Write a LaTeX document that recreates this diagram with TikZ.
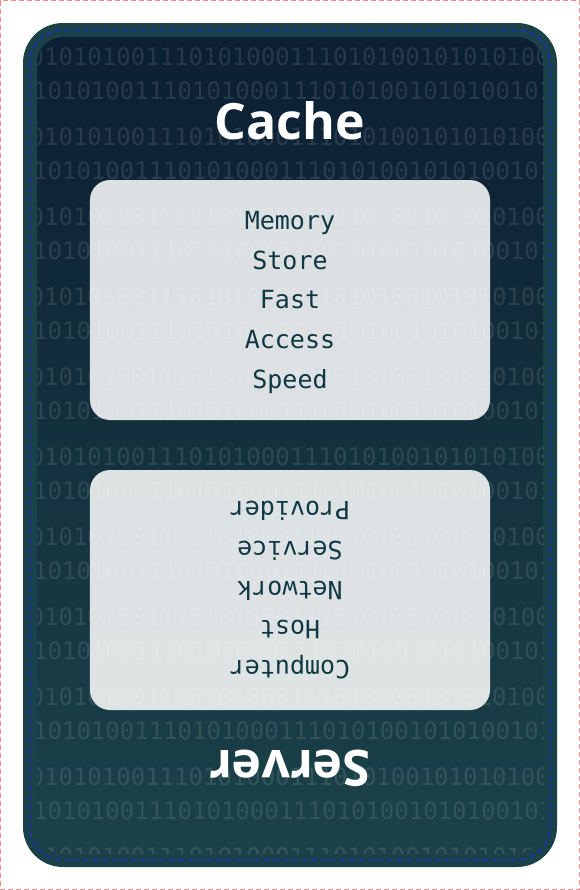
\documentclass[tikz,border=0pt]{standalone}
\usepackage{fontspec}
\newfontfamily\titlefont{Open Sans}
\newfontfamily\codefont{DejaVu Sans Mono}
\definecolor{bgtop}{HTML}{0C1F33}
\definecolor{bgbot}{HTML}{1B4249}
\definecolor{framecol}{HTML}{1B4249}
\definecolor{inkteal}{HTML}{103842}
\definecolor{dashblue}{HTML}{1F2FD0}
\definecolor{dashpink}{HTML}{F08A8A}
\begin{document}
\begin{tikzpicture}[x=1bp,y=-1bp,
  bits/.style={anchor=base west, inner sep=0pt, text=white, text opacity=0.11,
    font=\codefont\fontsize{24bp}{24bp}\selectfont},
  titletext/.style={anchor=base, inner sep=0pt, text=white,
    font=\titlefont\bfseries\fontsize{50bp}{50bp}\selectfont},
  word/.style={anchor=base, inner sep=0pt, text=inkteal,
    font=\codefont\fontsize{25bp}{25bp}\selectfont},
  card/.style={rectangle, fill=white, fill opacity=0.86, rounded corners=20bp,
    inner sep=0pt, minimum width=400bp, minimum height=240bp}]
\useasboundingbox (0,0) rectangle (580,890);
% outer frame
\fill[framecol, rounded corners=40bp] (23,23) rectangle (557,867);
\shade[top color=bgtop, bottom color=bgbot, rounded corners=26bp] (37,37) rectangle (543,853);
% binary background
\begin{scope}
  \clip[rounded corners=26bp] (37,37) rectangle (543,853);
  \foreach \k in {0,...,10} {
    \node[bits] (rowa\k) at (29.5, 65+80*\k) {010101001110101000111010100101010100};
  }
  \foreach \k in {0,...,9} {
    \node[bits] (rowb\k) at (33, 99+80*\k) {101010011101010001110101001010100101};
  }
\end{scope}
% dashed lines
\draw[dashblue, line width=1.2bp, dash pattern=on 6bp off 3.5bp, rounded corners=33bp] (30,30) rectangle (550,860);
\draw[dashpink, line width=1bp, dash pattern=on 5bp off 3bp] (0.5,0.5) rectangle (579.5,889.5);
% top half
\node[titletext] (cache) at (290,139.5) {Cache};
\node[card] (cachecard) at (290,300) {};
\node[word] (w1) at (290,229.7) {Memory};
\node[word] (w2) at (290,269.3) {Store};
\node[word] (w3) at (290,308.9) {Fast};
\node[word] (w4) at (290,348.5) {Access};
\node[word] (w5) at (290,388.1) {Speed};
% bottom half, turned round
\begin{scope}[rotate around={180:(290,445)}, transform shape]
  \node[titletext] (server) at (290,139.5) {Server};
  \node[card] (servercard) at (290,300) {};
  \node[word] (v1) at (290,229.7) {Computer};
  \node[word] (v2) at (290,269.3) {Host};
  \node[word] (v3) at (290,308.9) {Network};
  \node[word] (v4) at (290,348.5) {Service};
  \node[word] (v5) at (290,388.1) {Provider};
\end{scope}
\end{tikzpicture}
\end{document}
